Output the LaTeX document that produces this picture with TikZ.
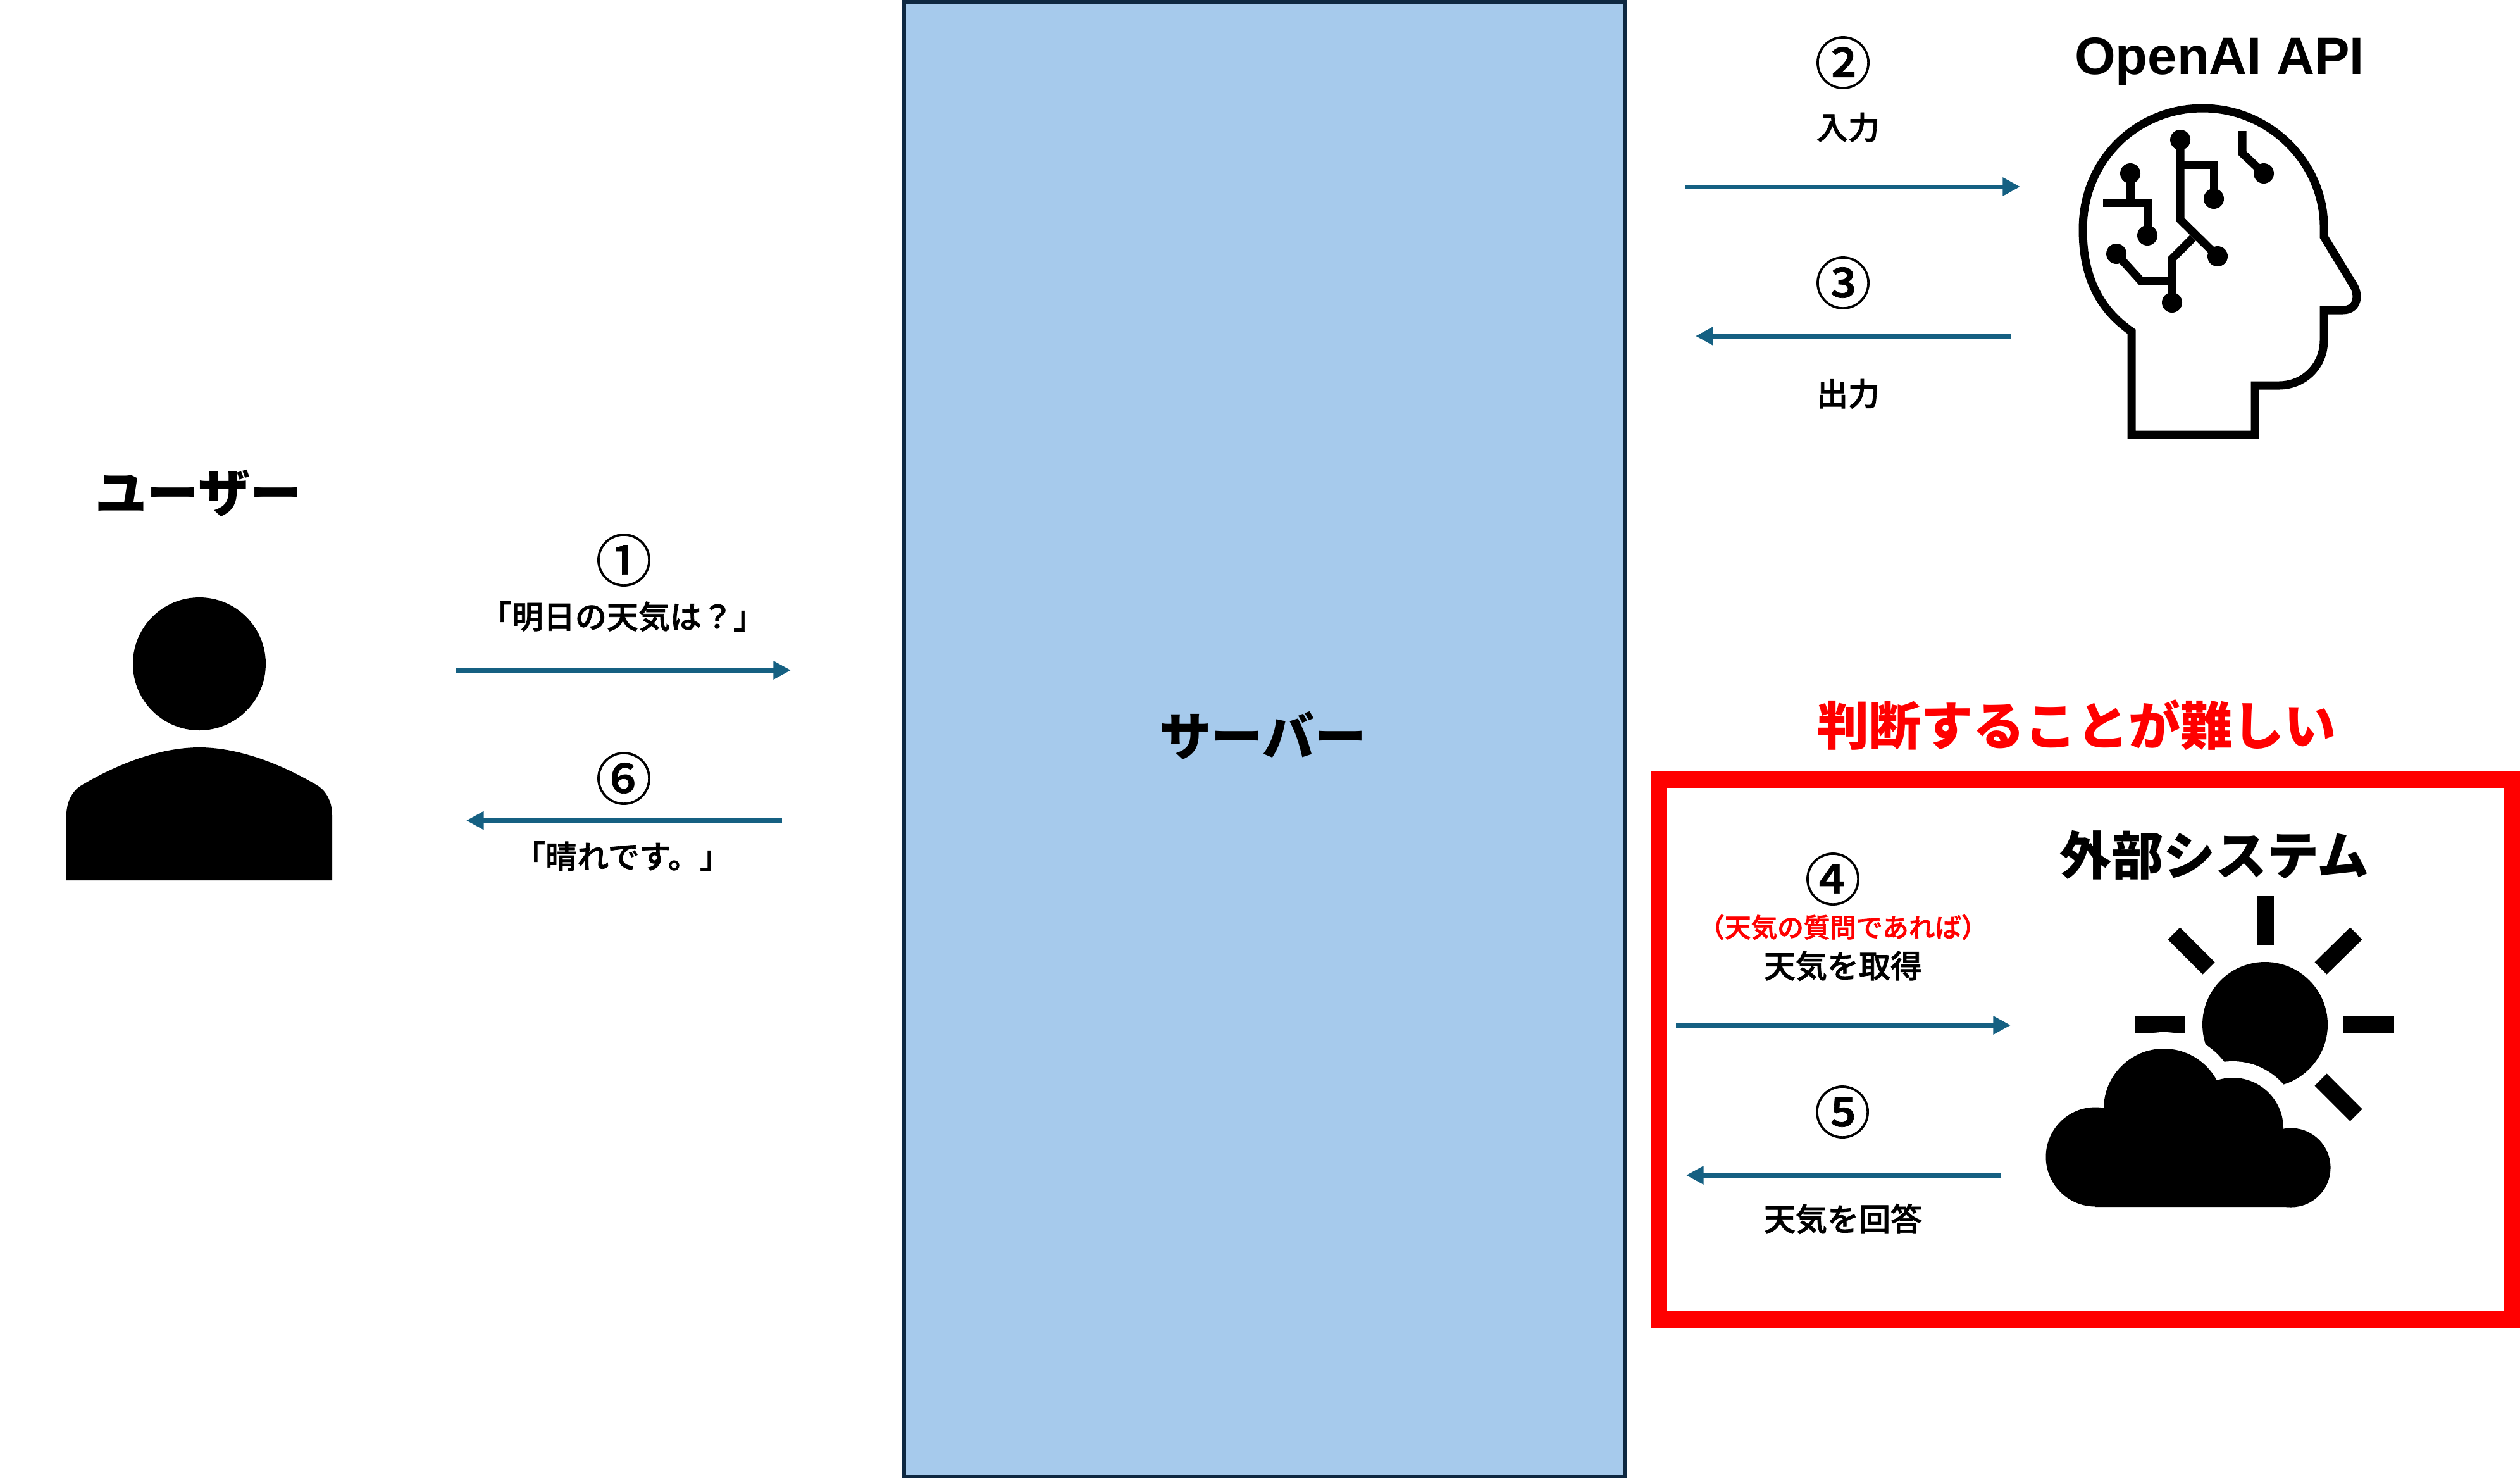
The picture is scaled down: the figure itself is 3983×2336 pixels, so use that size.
\documentclass[tikz,border=0pt]{standalone}
\usepackage{fontspec}
\usetikzlibrary{arrows.meta}
\newfontfamily\jpf{Noto Sans CJK JP}
\newfontfamily\jpm[FakeBold=1.5]{Noto Sans CJK JP Medium}
\newfontfamily\jpn[FakeBold=0.8]{Noto Sans CJK JP Medium}
\newfontfamily\lat{Liberation Sans}
\definecolor{arrowblue}{HTML}{156082}
\definecolor{serverfill}{HTML}{A6CAEC}
\definecolor{servernavy}{HTML}{0E2841}
\tikzset{
  jp/.style={inner sep=0pt,font=\jpf\bfseries\fontsize{#1}{#1}\selectfont,text height=0.88*#1 pt,text depth=0.12*#1 pt},
  jpmed/.style={inner sep=0pt,font=\jpm\fontsize{#1}{#1}\selectfont,text height=0.88*#1 pt,text depth=0.12*#1 pt},
  jpnum/.style={inner sep=0pt,font=\jpn\fontsize{#1}{#1}\selectfont,text height=0.88*#1 pt,text depth=0.12*#1 pt},
  label/.style={jpmed=12.5},
  num/.style={jpnum=22.2},
  title/.style={jp=20.5},
  flow/.style={draw=arrowblue,line width=1.75pt,-{Triangle[length=6.9pt,width=6.9pt]}},
  trace/.style={draw=black,line width=3.25pt,miter limit=10},
  ray/.style={draw=black,line width=6.75pt},
}
\begin{document}
\begin{tikzpicture}[x=0.25pt,y=-0.25pt]
\useasboundingbox (0,0) rectangle (3983,2336);
% server
\node[draw=servernavy,fill=serverfill,line width=1.5pt,minimum width=1139*0.25pt,minimum height=2330*0.25pt,inner sep=0pt] (server) at (1998,1168) {};
\node[title] (servertext) at (1996,1163) {サーバー};
% user
\node[title] (usertitle) at (314,778) {ユーザー};
\fill (315,1049) circle[radius=105];
\fill (105,1391) -- (105,1288) .. controls (105,1266) and (115,1250) .. (127,1242) .. controls (180,1210) and (250,1181) .. (315,1181) .. controls (380,1181) and (450,1210) .. (503,1242) .. controls (515,1250) and (525,1266) .. (525,1288) -- (525,1391) -- cycle;
% user arrows
\coordinate (a1s) at (721,1059); \coordinate (a1e) at (1250,1059);
\coordinate (a6s) at (1236,1296.5); \coordinate (a6e) at (737,1296.5);
\draw[flow] (a1s) -- (a1e);
\draw[flow] (a6s) -- (a6e);
\node[num] (n1) at (986,885) {①};
\node[label] (l1) at (984,974) {「明日の天気は？」};
\node[num] (n6) at (986,1230) {⑥};
\node[label] (l6) at (984,1353) {「晴れです。」};
% top right arrows
\coordinate (a2s) at (2664,295); \coordinate (a2e) at (3193,295);
\coordinate (a3s) at (3178,531); \coordinate (a3e) at (2680,531);
\draw[flow] (a2s) -- (a2e);
\draw[flow] (a3s) -- (a3e);
\node[num] (n2) at (2913,99) {②};
\node[label] (l2) at (2921,201) {入力};
\node[num] (n3) at (2913,447) {③};
\node[label] (l3) at (2921,622) {出力};
% OpenAI
\node[inner sep=0pt,anchor=base,font=\lat\bfseries\fontsize{20.8}{20.8}\selectfont] (openai) at (3508,117) {OpenAI API};
\draw[trace] (3369,687) -- (3369,524) .. controls (3320,490) and (3292,440) .. (3292,363) .. controls (3292,250) and (3380,171) .. (3481,171) .. controls (3590,171) and (3673,260) .. (3673,358) -- (3673,374) -- (3718,448) .. controls (3730,465) and (3727,490) .. (3703,490) -- (3673,490) -- (3673,537) .. controls (3673,580) and (3640,609) .. (3602,609) -- (3564,609) -- (3564,687) -- cycle;
\draw[trace] (3446,221) -- (3446,347) -- (3505,405);
\draw[trace] (3446,260) -- (3499,260) -- (3499,314);
\draw[trace] (3367,274) -- (3367,320);
\draw[trace] (3324,320) -- (3394,320) -- (3394,372);
\draw[trace] (3345,401) -- (3384,444) -- (3433,444);
\draw[trace] (3433,478) -- (3433,409) -- (3466,376);
\draw[trace] (3544,207) -- (3544,242) -- (3578,274);
\foreach \p in {(3446,221),(3367,274),(3499,314),(3578,274),(3394,372),(3505,405),(3345,401),(3433,478)}
  \fill \p circle[radius=16];
% red box
\node[draw=red,line width=6.5pt,minimum width=1348*0.25pt,minimum height=853*0.25pt,inner sep=0pt] (redbox) at (3296,1658.5) {};
\node[title,text=red] (hard) at (3282,1146) {判断することが難しい};
\node[title] (ext) at (3500,1351) {外部システム};
% weather arrows
\coordinate (a4s) at (2649,1620); \coordinate (a4e) at (3178,1620);
\coordinate (a5s) at (3163,1857); \coordinate (a5e) at (2665,1857);
\draw[flow] (a4s) -- (a4e);
\draw[flow] (a5s) -- (a5e);
\node[num] (n4) at (2897,1389) {④};
\node[jpmed=10.4,text=red] (lred) at (2913,1465) {（天気の質問であれば）};
\node[label] (l4) at (2913,1526) {天気を取得};
\node[num] (n5) at (2912,1757) {⑤};
\node[label] (l5) at (2913,1926) {天気を回答};
% sun
\fill (3580,1619) circle[radius=99];
\draw[ray] (3580,1415) -- (3580,1494);
\draw[ray] (3375,1619) -- (3454,1619);
\draw[ray] (3704,1619) -- (3784,1619);
\draw[ray] (3668,1530) -- (3724,1475);
\draw[ray] (3491,1530) -- (3436,1475);
\draw[ray] (3668,1706) -- (3724,1762);
% cloud halo and cloud
\fill[white] (3420,1752) circle[radius=121];
\fill[white] (3529,1783) circle[radius=106];
\fill (3312,1828) circle[radius=78.5];
\fill (3420,1752) circle[radius=95];
\fill (3529,1783) circle[radius=80];
\fill (3621,1845) circle[radius=62.5];
\fill (3312,1907) -- (3621,1907) -- (3621,1800) -- (3312,1790) -- cycle;
\end{tikzpicture}
\end{document}
